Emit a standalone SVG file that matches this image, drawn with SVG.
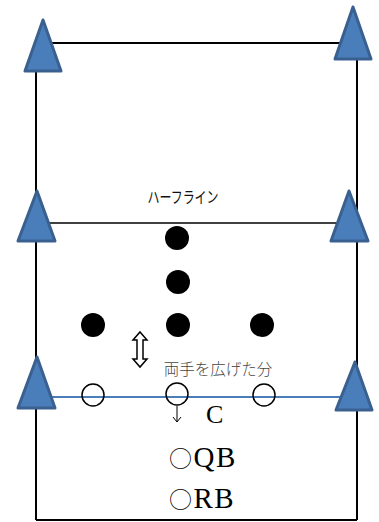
<svg xmlns="http://www.w3.org/2000/svg" width="379" height="522" viewBox="0 0 379 522">
<style>
.ln{stroke:#000;stroke-width:2;fill:none}
.cone{fill:#4a7ebb;stroke:#3a6090;stroke-width:3;stroke-linejoin:round}
.dot{fill:#000}
.opp{fill:none;stroke:#000;stroke-width:1.5}
.lbl{font-family:"Liberation Serif","Noto Sans CJK JP",serif}
.cj{font-family:"Noto Sans CJK JP",sans-serif;font-weight:300}
</style>
<defs>
<marker id="ah" markerWidth="10" markerHeight="10" refX="8" refY="5" orient="auto" markerUnits="userSpaceOnUse">
<path d="M3,1 L8,5 L3,9" fill="none" stroke="#000" stroke-width="1"/>
</marker>
</defs>
<g id="connectors">
<line class="ln" x1="36" y1="43" x2="357" y2="43"/>
<line class="ln" x1="36" y1="43" x2="36" y2="520"/>
<line class="ln" x1="357" y1="43" x2="357" y2="520"/>
<line class="ln" x1="36" y1="520" x2="357" y2="520"/>
<line x1="37" y1="223" x2="359" y2="223" stroke="#000" stroke-width="1.5"/>
<line x1="50" y1="397" x2="345" y2="397" stroke="#4a7ebb" stroke-width="2"/>
<line x1="177" y1="406" x2="177" y2="422" stroke="#000" stroke-width="1" marker-end="url(#ah)"/>
</g>
<g id="cone-tl"><polygon class="cone" points="43,20 25,71 61,71"/></g>
<g id="cone-tr"><polygon class="cone" points="353,7 335,59 371,59"/></g>
<g id="cone-ml"><polygon class="cone" points="37,191 18,241 55,241"/></g>
<g id="cone-mr"><polygon class="cone" points="349,191 331,241 368,241"/></g>
<g id="cone-bl"><polygon class="cone" points="37,357 18,408 55,408"/></g>
<g id="cone-br"><polygon class="cone" points="355,362 336,410 372,410"/></g>
<g id="half-label"><text x="183" y="203" text-anchor="middle" font-family="'Noto Sans CJK JP',sans-serif" font-weight="400" font-size="16" fill="#111" transform="translate(183 0) scale(0.75 1) translate(-183 0)">ハーフライン</text></g>
<g id="d1"><circle class="dot" cx="177" cy="238" r="12"/></g>
<g id="d2"><circle class="dot" cx="178" cy="282" r="12"/></g>
<g id="d3"><circle class="dot" cx="93" cy="325" r="12"/></g>
<g id="d4"><circle class="dot" cx="178" cy="325" r="12"/></g>
<g id="d5"><circle class="dot" cx="262" cy="325" r="12"/></g>
<g id="gap">
<path d="M140,332 L147,340 L143,340 L143,359 L147,359 L140,367 L133,359 L137,359 L137,340 L133,340 Z" fill="#fff" stroke="#000" stroke-width="1.5" stroke-linejoin="miter"/>
<text x="218" y="375" text-anchor="middle" class="cj" font-size="15.5" fill="#444">両手を広げた分</text>
</g>
<g id="o1"><circle class="opp" cx="93" cy="395" r="11"/></g>
<g id="o2"><circle class="opp" cx="177" cy="394" r="11"/></g>
<g id="o3"><circle class="opp" cx="264" cy="395" r="11"/></g>
<g id="c-label"><text class="lbl" x="206" y="423" font-size="26">C</text></g>
<g id="qb"><text class="lbl" x="169" y="467" font-size="29" letter-spacing="1.5"><tspan class="cj" font-size="23">○</tspan>QB</text></g>
<g id="rb"><text class="lbl" x="169" y="508" font-size="29" letter-spacing="1.5"><tspan class="cj" font-size="23">○</tspan>RB</text></g>
</svg>
